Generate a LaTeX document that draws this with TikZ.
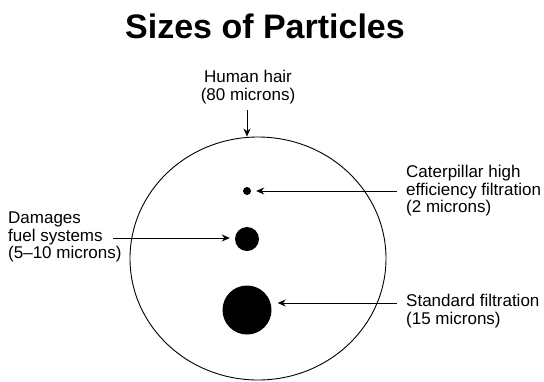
\documentclass[tikz,border=0pt]{standalone}
\usepackage{fontspec}
\setmainfont{Liberation Sans}
\usetikzlibrary{positioning}
\usetikzlibrary{arrows.meta}
\usetikzlibrary{shapes.geometric}

\begin{document}
\begin{tikzpicture}[x=1pt, y=-1pt,
    label/.style={inner sep=0pt, font=\fontsize{17}{17.5}\selectfont},
    particle/.style={circle, fill=black, inner sep=0pt},
    pointer/.style={-{Stealth[length=8pt, width=7pt]}, line width=0.9pt}]

      \useasboundingbox (0, 0) rectangle (544, 381);

      % Title
      \node[inner sep=0pt, anchor=base, font=\fontsize{34}{38}\bfseries] (title) at (265, 38) {Sizes of Particles};

      % Human hair (slightly wider than tall, as in the scan)
      \node[ellipse, draw=black, line width=0.9pt, minimum width=256pt, minimum height=243pt, inner sep=0pt] (hair) at (258, 258.5) {};

      % Particles inside the hair
      \node[particle, minimum size=8pt] (small) at (247, 191) {};
      \node[particle, minimum size=24pt] (medium) at (247, 239) {};
      \node[particle, minimum size=49pt] (large) at (247, 310) {};

      % Labels
      \node[label, align=center, anchor=south] (hairtext) at (248, 104) {Human hair\\(80 microns)};
      \node[label, align=left, anchor=west] (cattext) at (406, 191) {Caterpillar high\\efficiency filtration\\(2 microns)};
      \node[label, align=left, anchor=west] (fueltext) at (8, 237) {Damages\\fuel systems\\(5--10 microns)};
      \node[label, align=left, anchor=west] (stdtext) at (406, 311) {Standard filtration\\(15 microns)};

      % Pointers
      \coordinate (hairtop) at (247, 110);
      \coordinate (cattail) at (397, 191);
      \coordinate (fueltail) at (113, 238);
      \coordinate (stdtail) at (397, 303);

      \draw[pointer] (hairtop) -- (hair.north -| hairtop);
      \draw[pointer] (cattail) -- ([xshift=5pt] small.east |- cattail);
      \draw[pointer] (fueltail) -- ([xshift=-5pt] medium.west |- fueltail);
      \draw[pointer] (stdtail) -- ([xshift=6pt] large.east |- stdtail);

\end{tikzpicture}
\end{document}
